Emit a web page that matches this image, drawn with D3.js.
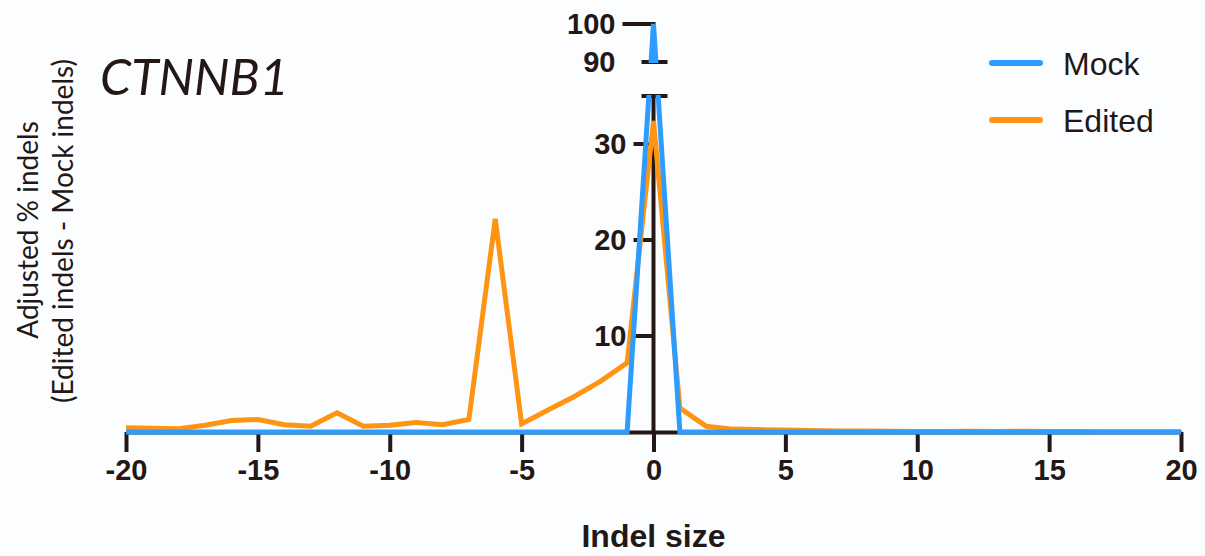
<!DOCTYPE html>
<html>
<head>
<meta charset="utf-8">
<script src="https://cdn.jsdelivr.net/npm/d3@7"></script>
<style>
  body { margin: 0; background: #fcfdff; }
  svg { display: block; }
</style>
</head>
<body>
<script>
// indel size on x, adjusted % indels on y
const indelSize = [-20, -19, -18, -17, -16, -15, -14, -13, -12, -11, -10, -9, -8, -7, -6, -5, -4, -3, -2, -1,
  0, 1, 2, 3, 4, 5, 6, 7, 8, 9, 10, 11, 12, 13, 14, 15, 16, 17, 18, 19, 20];
const mock = [0, 0, 0, 0, 0, 0, 0, 0, 0, 0, 0, 0, 0, 0, 0, 0, 0, 0, 0, 0,
  100, 0, 0, 0, 0, 0, 0, 0, 0, 0, 0, 0, 0, 0, 0, 0, 0, 0, 0, 0, 0];
const edited = [0.45, 0.4, 0.35, 0.7, 1.2, 1.3, 0.75, 0.6, 2.0, 0.6, 0.7, 1.0, 0.75, 1.3, 22.2, 0.85, 2.3, 3.7, 5.3, 7.2,
  32.4, 2.5, 0.6, 0.3, 0.25, 0.2, 0.15, 0.1, 0.1, 0.08, 0.05, 0.05, 0.08, 0.05, 0.08, 0.05, 0.05, 0.03, 0.03, 0.02, 0.02];

const xTicks = [-20, -15, -10, -5, 0, 5, 10, 15, 20];
const yTicksLow = [10, 20, 30];
const yTicksHigh = [100];
const yBreaks = [35, 90];
const yBreakLabels = [90];

const seriesNames = ['Mock', 'Edited'];
const colors = { Mock: '#2e9bff', Edited: '#ff9412' };
const ink = '#231815';

const W = 1205, H = 556;
const svg = d3.select('body').append('svg').attr('width', W).attr('height', H);

const x = d3.scaleLinear().domain([-20, 20]).range([126, 1181]);
// broken axis: 0-35 lower segment, 90-100 upper segment, gap between
const y = d3.scaleLinear().domain([0, 35, 90, 100]).range([432, 96, 62, 24]);
const ax = x(0);

// clip: show lower and upper segments only
const defs = svg.append('defs');
const clip = defs.append('clipPath').attr('id', 'seg');
clip.append('rect').attr('x', 0).attr('y', 0).attr('width', W).attr('height', 63);
clip.append('rect').attr('x', 0).attr('y', 95).attr('width', W).attr('height', H - 95);

// x axis
const xAxis = svg.append('g')
  .attr('transform', `translate(0,${y(0)})`)
  .call(d3.axisBottom(x).tickValues(xTicks).tickSize(20).tickSizeOuter(0).tickPadding(7)
    .tickFormat(d => String(d)));
xAxis.select('.domain').attr('stroke', ink).attr('stroke-width', 4);
xAxis.selectAll('.tick line').attr('stroke', ink).attr('stroke-width', 4);
xAxis.selectAll('.tick text')
  .attr('fill', ink)
  .style('font-family', '"Liberation Sans", Arial, sans-serif')
  .style('font-weight', 'bold')
  .style('font-size', '29px');

// y axis, two pieces
const yAxis = svg.append('g').attr('stroke', ink).attr('stroke-width', 4);
yAxis.append('line').attr('x1', ax).attr('x2', ax).attr('y1', y(0)).attr('y2', y(35));
yAxis.append('line').attr('x1', ax).attr('x2', ax).attr('y1', y(90)).attr('y2', y(100));
yAxis.selectAll('.tlow').data(yTicksLow).join('line').attr('class', 'tlow')
  .attr('x1', ax - 20).attr('x2', ax).attr('y1', d => y(d)).attr('y2', d => y(d));
yAxis.selectAll('.thigh').data(yTicksHigh).join('line').attr('class', 'thigh')
  .attr('x1', ax - 31).attr('x2', ax + 2).attr('y1', d => y(d)).attr('y2', d => y(d));
yAxis.selectAll('.tbrk').data(yBreaks).join('line').attr('class', 'tbrk')
  .attr('x1', ax - 12).attr('x2', ax + 14).attr('y1', d => y(d)).attr('y2', d => y(d));

const yLab = svg.append('g')
  .attr('fill', ink)
  .style('font-family', '"Liberation Sans", Arial, sans-serif')
  .style('font-weight', 'bold')
  .style('font-size', '29px')
  .attr('text-anchor', 'end');
yLab.selectAll('.llow').data(yTicksLow).join('text').attr('class', 'llow')
  .attr('x', ax - 27).attr('y', d => y(d)).attr('dy', '0.36em').text(d => d);
yLab.selectAll('.lhigh').data(yTicksHigh.concat(yBreakLabels)).join('text').attr('class', 'lhigh')
  .attr('x', ax - 38).attr('y', d => y(d)).attr('dy', '0.36em').text(d => d);

// series
const line = d3.line().x((d, i) => x(indelSize[i])).y(d => y(d));
const plot = svg.append('g').attr('clip-path', 'url(#seg)');
plot.append('path').datum(edited)
  .attr('fill', 'none').attr('stroke', colors.Edited).attr('stroke-width', 5)
  .attr('stroke-linejoin', 'miter').attr('d', line);
plot.append('path').datum(mock)
  .attr('fill', 'none').attr('stroke', colors.Mock).attr('stroke-width', 5)
  .attr('stroke-linejoin', 'miter').attr('d', line);

// title
svg.append('text')
  .attr('x', 100).attr('y', 95)
  .attr('fill', ink)
  .style('font-family', 'Lato, sans-serif')
  .style('font-style', 'italic')
  .style('font-size', '50px')
  .text('CTNNB1');

// axis titles
svg.append('text')
  .attr('x', ax).attr('y', 547)
  .attr('text-anchor', 'middle')
  .attr('fill', ink)
  .style('font-family', '"Liberation Sans", Arial, sans-serif')
  .style('font-weight', 'bold')
  .style('font-size', '32px')
  .text('Indel size');

const yTitle = svg.append('g')
  .attr('fill', ink)
  .style('font-family', 'Lato, sans-serif')
  .style('font-size', '28px')
  .attr('text-anchor', 'middle');
yTitle.append('text').attr('transform', 'translate(38,230) rotate(-90)').text('Adjusted % indels');
yTitle.append('text').attr('transform', 'translate(73,231) rotate(-90)').text('(Edited indels - Mock indels)');

// legend
const legend = svg.append('g').selectAll('g').data(seriesNames).join('g')
  .attr('transform', (d, i) => `translate(992,${63 + i * 57})`);
legend.append('line')
  .attr('x1', 0).attr('x2', 48).attr('y1', 0).attr('y2', 0)
  .attr('stroke', d => colors[d]).attr('stroke-width', 6).attr('stroke-linecap', 'round');
legend.append('text')
  .attr('x', 71).attr('y', 12)
  .attr('fill', ink)
  .style('font-family', '"Liberation Sans", Arial, sans-serif')
  .style('font-size', '32px')
  .text(d => d);
</script>
</body>
</html>
